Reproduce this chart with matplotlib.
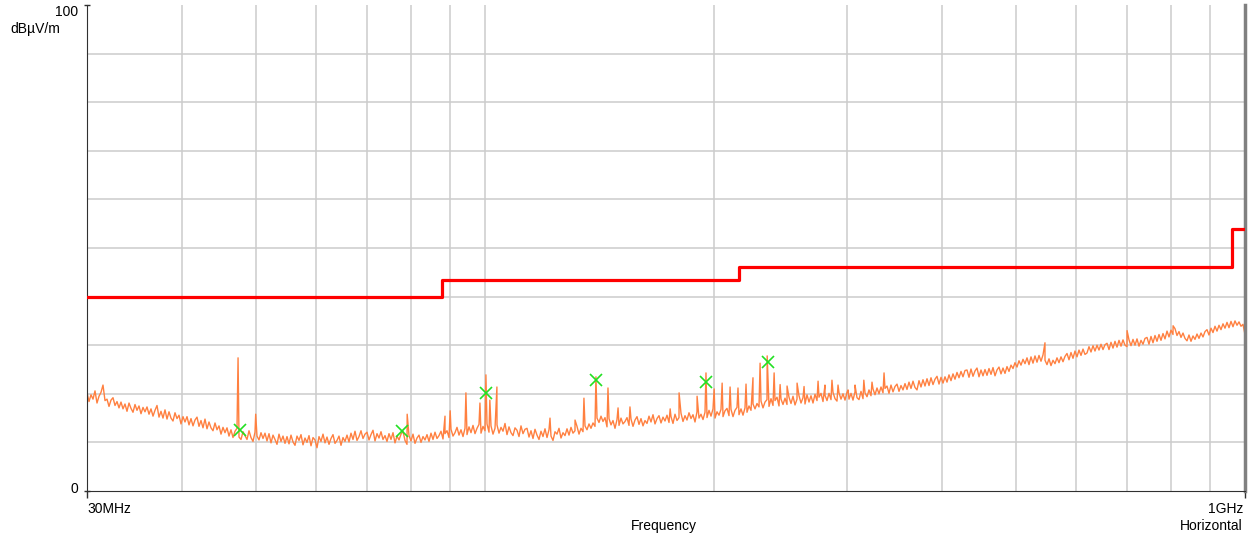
import numpy as np
import matplotlib
matplotlib.use("Agg")
import matplotlib.pyplot as plt

plt.rcParams['font.family'] = ['Liberation Sans', 'DejaVu Sans']

# Measured spectrum (dBuV/m), log-spaced sweep from 30 MHz to 1 GHz
trace_db = [
    20.2, 18.4, 19.8, 18.9, 20.6, 18.1, 19.5, 20.3, 21.8, 18.6,
    18.9, 17.4, 18.7, 19.2, 17.6, 18.4, 17.1, 18.3, 16.9, 17.9,
    16.4, 18.1, 17.0, 16.2, 17.8, 16.6, 17.5, 15.9, 17.2, 16.3,
    17.3, 15.8, 16.9, 15.4, 16.6, 17.6, 15.2, 16.4, 15.0, 16.7,
    14.8, 16.3, 15.0, 14.4, 16.1, 14.9, 15.6, 13.8, 15.3, 14.2,
    15.3, 13.6, 14.9, 13.4, 14.6, 15.2, 13.3, 14.5, 13.0, 14.8,
    12.8, 14.2, 13.0, 12.4, 14.0, 12.6, 13.4, 11.7, 13.1, 12.0,
    13.0, 11.3, 12.6, 11.0, 12.3, 12.9, 11.1, 10.6, 12.2, 11.4,
    10.6, 12.4, 11.0, 10.2, 12.1, 11.3, 10.5, 12.0, 10.8, 11.9,
    10.3, 11.8, 9.9, 11.5, 10.6, 9.6, 11.7, 10.2, 11.3, 9.8,
    11.2, 9.7, 11.5, 10.1, 9.4, 11.3, 10.4, 11.6, 9.5, 10.9,
    10.0, 11.4, 9.3, 11.0, 10.5, 8.9, 11.2, 10.2, 11.7, 9.9,
    11.1, 9.6, 10.8, 11.6, 9.8, 10.4, 11.3, 9.4, 11.0, 10.2,
    11.5, 10.1, 11.9, 10.6, 12.3, 10.4, 11.2, 12.4, 10.8, 11.7,
    12.1, 10.5, 11.6, 12.5, 10.3, 11.8, 10.9, 12.2, 10.6, 11.4,
    10.2, 11.8, 10.6, 12.0, 9.9, 11.3, 10.5, 11.7, 12.3, 10.4,
    9.6, 11.4, 10.3, 11.7, 9.8, 10.9, 11.5, 10.0, 11.2, 10.5,
    11.6, 10.2, 11.9, 10.6, 12.1, 10.8, 11.4, 12.3, 10.7, 11.8,
    12.4, 11.0, 12.7, 11.3, 12.0, 13.1, 11.5, 12.6, 11.2, 12.9,
    11.6, 13.2, 12.0, 13.5, 11.8, 12.9, 13.7, 11.9, 13.3, 12.4,
    13.8, 12.1, 13.4, 11.7, 12.9, 13.6, 11.9, 13.1, 12.3, 13.9,
    11.6, 13.2, 12.0, 11.4, 13.0, 12.5, 11.2, 13.4, 11.8, 12.7,
    12.9, 11.1, 12.4, 10.8, 12.7, 11.5, 10.6, 12.3, 11.2, 12.8,
    11.0, 12.6, 11.3, 10.4, 12.2, 11.7, 12.9, 10.9, 12.0, 11.4,
    12.8, 11.5, 13.1, 11.9, 12.4, 13.3, 11.7, 12.9, 12.2, 13.4,
    12.6, 13.8, 12.9, 14.0, 13.3, 15.0, 14.1, 15.4, 14.3, 15.1,
    13.2, 14.9, 13.6, 14.5, 12.9, 14.7, 13.5, 15.0, 13.8, 14.3,
    15.1, 13.5, 14.8, 13.3, 14.6, 15.3, 13.7, 14.9, 13.4, 14.5,
    13.9, 15.4, 14.2, 15.7, 13.8, 14.9, 15.5, 14.0, 15.2, 14.4,
    15.6, 14.1, 15.3, 13.9, 15.8, 14.5, 15.1, 16.0, 14.3, 15.5,
    14.6, 16.1, 14.9, 15.7, 14.2, 16.3, 15.0, 15.8, 14.7, 16.2,
    15.1, 16.6, 15.4, 16.9, 15.0, 16.3, 15.6, 16.8, 15.3, 16.5,
    17.0, 15.5, 16.8, 15.3, 16.6, 17.2, 15.7, 16.9, 15.6, 17.1,
    16.2, 17.5, 16.6, 17.9, 16.9, 18.0, 17.3, 18.5, 17.1, 18.3,
    18.8, 17.4, 19.0, 17.6, 18.6, 19.3, 17.5, 18.9, 17.8, 19.1,
    17.8, 19.3, 18.0, 19.5, 17.7, 18.9, 19.6, 18.1, 19.2, 17.9,
    19.8, 18.3, 19.6, 18.1, 19.9, 18.6, 19.3, 20.1, 18.4, 19.7,
    18.6, 20.1, 18.8, 20.3, 19.0, 18.5, 20.2, 18.9, 20.0, 18.7,
    20.3, 18.9, 20.1, 18.7, 20.4, 19.2, 18.8, 20.5, 19.0, 20.2,
    19.4, 20.8, 19.6, 21.0, 19.8, 21.2, 20.0, 21.4, 20.2, 21.1,
    21.6, 20.1, 21.8, 20.4, 21.5, 22.0, 20.5, 21.7, 20.8, 22.1,
    20.9, 22.4, 21.1, 22.6, 21.3, 20.8, 22.7, 21.4, 22.9, 21.6,
    23.1, 21.7, 23.3, 21.9, 23.0, 23.6, 22.0, 23.4, 22.2, 23.5,
    22.4, 23.9, 22.7, 24.1, 23.0, 24.4, 23.3, 24.6, 23.5, 24.8,
    24.9, 23.4, 25.1, 23.6, 24.7, 25.3, 23.5, 24.9, 23.7, 25.0,
    23.8, 25.2, 24.0, 25.4, 23.7, 24.9, 25.5, 24.1, 25.3, 24.2,
    25.6, 24.6, 25.9, 25.2, 26.4, 25.5, 26.8, 25.9, 27.1, 26.2,
    27.4, 26.0, 27.6, 26.3, 27.8, 26.5, 27.9, 26.7, 28.0, 26.9,
    26.0, 27.2, 25.8, 26.9, 26.2, 27.4, 26.4, 27.6, 26.6, 27.7,
    28.3, 27.0, 28.5, 27.3, 28.8, 27.6, 29.0, 27.9, 29.2, 28.1,
    28.4, 29.7, 28.6, 29.9, 28.8, 30.0, 29.0, 30.2, 29.1, 30.1,
    30.4, 29.1, 30.6, 29.4, 30.8, 29.6, 31.0, 29.8, 31.1, 30.0,
    29.7, 31.1, 29.9, 31.2, 30.0, 31.3, 29.8, 31.0, 30.2, 31.4,
    31.6, 30.2, 31.8, 30.5, 32.0, 30.8, 32.2, 31.0, 32.4, 31.3,
    32.9, 31.7, 33.1, 32.2, 33.4, 32.0, 32.8, 31.6, 32.5, 31.4,
    30.9, 32.1, 30.8, 31.9, 31.2, 32.3, 31.4, 32.5, 31.7, 32.8,
    33.2, 32.1, 33.5, 32.6, 33.9, 32.9, 34.1, 33.2, 34.4, 33.5,
    34.7, 33.6, 34.9, 33.8, 35.0, 34.1, 34.8, 33.9, 34.3, 32.2,
]
trace_mhz = np.geomspace(30.0, 1000.0, len(trace_db))

# Narrowband emissions standing out of the noise floor
spike_mhz = [47.4, 50.0, 79.1, 88.7, 90.1, 94.5, 98.6, 100.4, 101.6, 103.8,
             121.9, 131.5, 135.1, 140.1, 145.3, 149.8, 155.3, 175.4, 180.2,
             190.3, 195.5, 200.4, 205.3, 210.3, 215.4, 220.7, 225.4, 230.3,
             235.3, 240.3, 244.7, 249.9, 257.6, 263.1, 274.5, 280.3, 286.3,
             291.6, 300.6, 307.0, 315.3, 323.2, 335.2, 545.7, 699.7, 804.3]
spike_db = [27.4, 15.8, 15.8, 15.4, 16.5, 20.2, 18.1, 23.9, 18.7, 21.4,
            15.0, 14.6, 19.1, 23.5, 21.2, 17.1, 17.3, 16.9, 20.2,
            19.5, 24.3, 21.0, 22.2, 21.4, 21.2, 22.0, 23.3, 26.3,
            27.8, 24.3, 21.9, 21.6, 22.2, 21.5, 22.6, 21.8, 22.8,
            21.8, 20.8, 21.8, 22.8, 22.4, 24.3, 30.5, 33.0, 34.0]

# Quasi-peak marker readings
marker_mhz = [47.7, 77.9, 100.4, 140.1, 195.5, 235.9]
marker_db = [12.5, 12.3, 20.2, 22.8, 22.4, 26.5]

# Class B radiated emission limit
limit_mhz = [30.0, 88.0, 216.0, 960.0, 1000.0]
limit_db = [40.0, 43.5, 46.0, 54.0, 54.0]

grid_mhz = [40, 50, 60, 70, 80, 90, 100, 200, 300, 400, 500, 600, 700, 800, 900]
grid_db = [10, 20, 30, 40, 50, 60, 70, 80, 90]

# Merge sweep and narrowband points into one trace
f_all = np.concatenate([trace_mhz, spike_mhz])
v_all = np.concatenate([trace_db, spike_db])
order = np.argsort(f_all)
f_all, v_all = f_all[order], v_all[order]

fig = plt.figure(figsize=(12.55, 5.40), dpi=100)
ax = fig.add_axes([87 / 1255, 1 - 491 / 540, 1158 / 1255, 486 / 540])
ax.set_xscale('log')
ax.set_xlim(30, 1000)
ax.set_ylim(0, 100)

for g in grid_mhz:
    ax.axvline(g, color='#cccccc', lw=1.1, zorder=0)
for g in grid_db:
    ax.axhline(g, color='#cccccc', lw=1.1, zorder=0)

ax.step(limit_mhz, limit_db, where='post', color='#ff0000', lw=2.3, zorder=3)
ax.plot(f_all, v_all, color='#ff8040', lw=1.0, zorder=2)
ax.plot(marker_mhz, marker_db, 'x', color='#22e022', ms=8, mew=1.2, zorder=4)

ax.spines['top'].set_visible(False)
ax.spines['left'].set_color('#303030')
ax.spines['bottom'].set_color('#303030')
ax.spines['right'].set_color('#808080')
ax.spines['right'].set_linewidth(2.5)

ax.set_xticks([30, 1000])
ax.set_xticklabels([])
ax.xaxis.set_minor_locator(matplotlib.ticker.NullLocator())
ax.tick_params(axis='x', length=5, width=1, color='#303030')
ax.set_yticks([0, 100])
ax.set_yticklabels([])
ax.tick_params(axis='y', length=4, width=1, direction='inout', color='#303030')

fs = 10
fig.text(78 / 1255, 1 - 12 / 540, '100', ha='right', va='center', fontsize=fs)
fig.text(60 / 1255, 1 - 29 / 540, 'dBµV/m', ha='right', va='center', fontsize=fs)
fig.text(78 / 1255, 1 - 489 / 540, '0', ha='right', va='center', fontsize=fs)
fig.text(87 / 1255, 1 - 509 / 540, '30MHz', ha='left', va='center', fontsize=fs)
fig.text(1243 / 1255, 1 - 509 / 540, '1GHz', ha='right', va='center', fontsize=fs)
fig.text(664 / 1255, 1 - 526 / 540, 'Frequency', ha='center', va='center', fontsize=fs)
fig.text(1243 / 1255, 1 - 526 / 540, 'Horizontal', ha='right', va='center', fontsize=fs)

fig.savefig('out.png', dpi=100)
